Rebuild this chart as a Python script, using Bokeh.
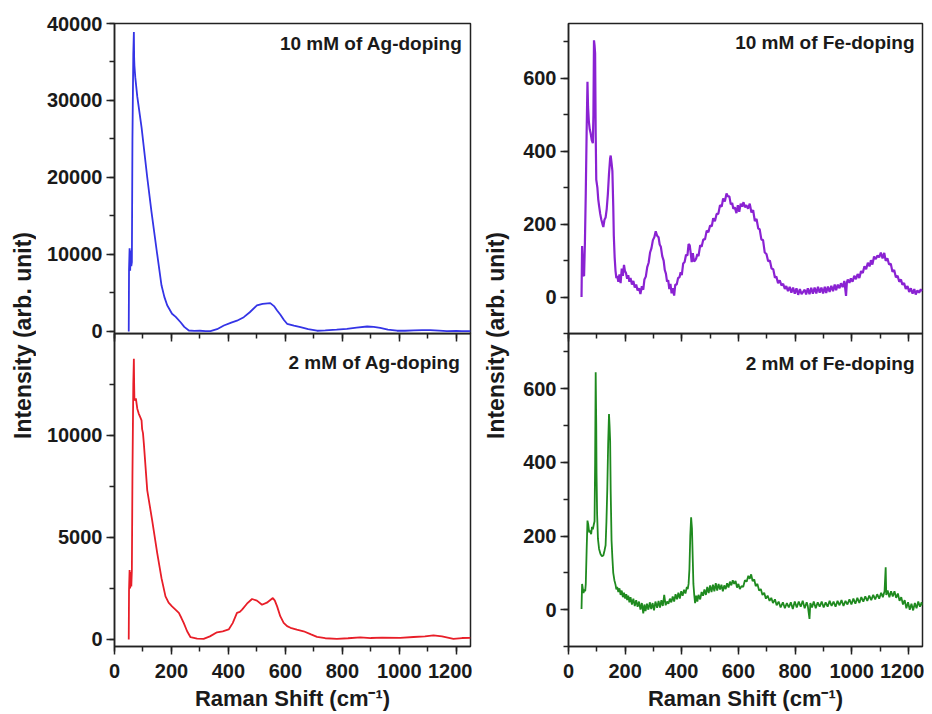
import math
from bokeh.plotting import figure
from bokeh.layouts import row, column
from bokeh.models import Range1d, SingleIntervalTicker, Label
from bokeh.embed import file_html
from bokeh.resources import INLINE

# ---------------- data ----------------
ag10_shift = [50, 51, 53, 55, 57, 59, 61, 63, 66, 68, 69, 70, 73, 80, 95, 115, 130, 150, 165, 175,
              185, 202, 215, 232, 245, 261, 280, 300, 320, 337, 360, 384, 410, 430, 454, 475, 500,
              520, 547, 560, 571, 582, 595, 606, 630, 653, 680, 711, 740, 780, 816, 850, 887, 910,
              933, 960, 992, 1020, 1050, 1080, 1109, 1140, 1167, 1200, 1220, 1243, 1250]
ag10_int = [0, 8000, 10800, 7900, 10500, 8500, 9000, 25000, 36000, 38900, 35500, 34500, 33000,
            30500, 26500, 20000, 15500, 10000, 6000, 4500, 3400, 2300, 1900, 1200, 600, 130, 80,
            100, 60, 40, 300, 780, 1150, 1400, 1860, 2500, 3380, 3600, 3680, 3300, 2730, 2200,
            1500, 1000, 750, 560, 300, 100, 150, 250, 350, 500, 650, 600, 480, 250, 100, 100, 150,
            180, 180, 120, 60, 80, 60, 60, 60]

ag2_shift = [50, 51, 53, 55, 57, 59, 61, 63, 66, 68, 69, 70, 75, 80, 85, 90, 95, 97, 100, 103, 115,
             132, 150, 165, 179, 190, 202, 215, 226, 235, 243, 255, 267, 290, 313, 335, 360, 380,
             401, 415, 430, 440, 448, 465, 483, 500, 518, 535, 556, 563, 571, 582, 594, 606, 618,
             640, 664, 690, 711, 740, 781, 820, 863, 900, 940, 1003, 1050, 1090, 1120, 1150, 1190,
             1220, 1250]
ag2_int = [0, 2400, 3400, 2500, 3300, 2600, 3400, 8000, 12500, 13740, 12500, 11700, 11800, 11300,
           11060, 10900, 10730, 10300, 10100, 9600, 7300, 5850, 4230, 3000, 2110, 1800, 1620, 1450,
           1300, 1050, 810, 400, 110, 40, 30, 150, 350, 400, 490, 800, 1300, 1350, 1460, 1750,
           1980, 1900, 1700, 1800, 2030, 1900, 1620, 1140, 810, 650, 570, 480, 400, 250, 130, 60,
           30, 60, 100, 70, 90, 80, 120, 150, 200, 150, 30, 70, 80]

fe10_shift = [46, 48, 50, 52, 55, 58, 61, 64, 67, 69, 72, 75, 78, 82, 86, 88, 90, 92, 94, 96, 98,
              102, 105, 108, 112, 116, 120, 123, 127, 131, 135, 139, 143, 147, 149, 152, 155, 158,
              160, 163, 166, 169, 172, 176, 180, 184, 188, 192, 196, 199, 203, 207, 211, 215, 219,
              224, 229, 234, 239, 244, 249, 254, 259, 264, 268, 273, 278, 283, 288, 293, 298, 303,
              308, 313, 318, 322, 326, 331, 336, 340, 344, 348, 352, 356, 360, 364, 368, 373, 377,
              382, 387, 392, 396, 400, 405, 410, 415, 420, 424, 428, 431, 435, 439, 443, 447, 451,
              455, 459, 465, 470, 476, 482, 488, 494, 500, 506, 511, 517, 523, 529, 535, 541, 546,
              552, 558, 563, 568, 573, 578, 582, 587, 593, 598, 603, 608, 613, 618, 623, 628, 634,
              640, 646, 652, 658, 664, 670, 675, 681, 687, 693, 699, 705, 711, 717, 723, 729, 734,
              740, 746, 752, 758, 764, 769, 775, 781, 787, 793, 799, 805, 811, 817, 823, 834, 839,
              845, 851, 857, 863, 869, 875, 881, 887, 893, 899, 905, 910, 916, 922, 928, 934, 940,
              945, 951, 957, 962, 968, 974, 980, 983, 986, 992, 997, 1003, 1009, 1015, 1021, 1027,
              1033, 1039, 1045, 1051, 1057, 1063, 1068, 1073, 1079, 1085, 1091, 1097, 1103, 1109,
              1115, 1120, 1126, 1132, 1138, 1144, 1150, 1156, 1162, 1168, 1174, 1179, 1185, 1191,
              1197, 1203, 1209, 1215, 1221, 1226, 1232, 1238, 1244, 1249]
fe10_int = [0, 140, 95, 60, 58, 150, 285, 450, 590, 522, 480, 460, 450, 430, 422, 500, 704, 690,
            668, 450, 322, 300, 268, 250, 228, 212, 200, 192, 212, 218, 242, 282, 338, 380, 388,
            368, 345, 250, 168, 108, 72, 52, 58, 42, 62, 38, 78, 58, 88, 72, 66, 50, 60, 42, 52,
            34, 44, 26, 34, 18, 24, 8, 30, 20, 48, 56, 82, 94, 122, 134, 156, 164, 180, 168, 164,
            144, 138, 112, 100, 74, 64, 42, 46, 22, 36, 10, 24, 4, 34, 34, 52, 54, 68, 60, 92, 96,
            116, 114, 145, 142, 124, 96, 120, 98, 100, 106, 118, 112, 142, 138, 158, 158, 182, 178,
            196, 194, 216, 208, 228, 228, 252, 248, 270, 262, 284, 276, 276, 254, 258, 242, 246,
            230, 252, 234, 256, 248, 260, 246, 252, 242, 256, 232, 238, 208, 214, 188, 186, 158,
            156, 122, 118, 98, 100, 78, 76, 53, 56, 38, 46, 32, 36, 22, 30, 16, 28, 12, 26, 9, 24,
            6, 22, 8, 20, 7, 24, 8, 25, 9, 26, 10, 28, 12, 26, 10, 28, 11, 29, 14, 31, 16, 34, 19,
            34, 24, 38, 27, 44, 3, 40, 48, 39, 51, 42, 58, 49, 63, 52, 71, 66, 84, 76, 94, 84, 101,
            89, 111, 104, 114, 109, 122, 106, 121, 99, 106, 89, 91, 69, 74, 54, 58, 42, 48, 34,
            38, 22, 30, 14, 24, 9, 22, 7, 18, 12, 21, 16]

fe2_shift = [46, 48, 50, 53, 56, 59, 61, 64, 67, 70, 73, 76, 80, 83, 86, 89, 92, 94, 96, 98, 99,
             101, 104, 108, 113, 118, 123, 127, 131, 134, 137, 140, 143, 145, 147, 149, 152, 155,
             158, 162, 166, 169, 172, 176, 180, 184, 188, 192, 196, 200, 204, 207, 211, 215, 219,
             224, 229, 234, 239, 244, 249, 254, 259, 264, 268, 272, 277, 282, 287, 292, 297, 302,
             307, 313, 318, 323, 328, 333, 338, 343, 348, 353, 358, 363, 368, 373, 378, 383, 388,
             393, 398, 403, 408, 413, 418, 421, 424, 427, 430, 433, 436, 439, 441, 444, 447, 451,
             455, 459, 465, 470, 475, 480, 485, 490, 495, 500, 505, 510, 515, 520, 525, 530, 535,
             540, 545, 550, 555, 560, 565, 570, 575, 580, 585, 590, 595, 600, 605, 611, 617, 623,
             629, 635, 640, 645, 650, 656, 661, 667, 673, 679, 685, 691, 697, 703, 710, 716, 722,
             729, 735, 742, 749, 757, 764, 771, 778, 785, 792, 799, 806, 813, 820, 827, 834, 841,
             845, 851, 854, 860, 866, 873, 880, 887, 894, 901, 908, 915, 922, 929, 936, 943, 950,
             957, 964, 971, 978, 985, 992, 999, 1006, 1013, 1020, 1027, 1034, 1041, 1048, 1055,
             1062, 1069, 1076, 1083, 1090, 1097, 1104, 1110, 1116, 1120, 1122, 1127, 1133, 1139,
             1145, 1151, 1157, 1163, 1169, 1175, 1181, 1187, 1193, 1199, 1205, 1211, 1217, 1223,
             1229, 1235, 1241, 1247, 1250]
fe2_int = [2, 70, 60, 45, 55, 50, 70, 160, 242, 230, 210, 215, 205, 225, 218, 230, 240, 400, 645,
           500, 372, 260, 192, 165, 151, 145, 147, 160, 175, 240, 328, 450, 531, 500, 460, 320,
           188, 140, 100, 80, 68, 55, 62, 48, 58, 40, 52, 34, 46, 30, 42, 26, 38, 20, 34, 14, 30,
           10, 26, 8, 22, 0, 18, -10, 14, -4, 16, 0, 20, 2, 18, -2, 22, 5, 24, 6, 26, 10, 40, 12,
           22, 16, 30, 20, 36, 22, 42, 28, 46, 30, 50, 38, 54, 44, 62, 56, 70, 110, 200, 251, 220,
           130, 70, 40, 18, 38, 22, 40, 28, 48, 38, 55, 40, 62, 45, 66, 48, 68, 50, 72, 52, 70,
           55, 68, 50, 66, 56, 72, 60, 76, 66, 80, 70, 78, 60, 70, 56, 64, 62, 80, 76, 92, 84, 96,
           78, 82, 64, 70, 52, 56, 40, 46, 30, 38, 24, 32, 18, 28, 12, 22, 6, 20, 4, 18, 6, 20, 2,
           22, 6, 22, 8, 24, 4, 20, 10, -25, 18, 6, 22, 4, 20, 8, 22, 6, 20, 8, 24, 10, 22, 8, 24,
           12, 26, 10, 24, 14, 28, 14, 30, 16, 32, 18, 34, 22, 36, 24, 38, 26, 40, 28, 42, 30, 46,
           34, 50, 115, 40, 52, 34, 50, 36, 50, 32, 44, 24, 34, 14, 26, 4, 20, 0, 16, -2, 18, 4,
           22, 8, 20, 12]

x_ticks_step = 200
panel_titles = ["10 mM of Ag-doping", "2 mM of Ag-doping", "10 mM of Fe-doping", "2 mM of Fe-doping"]
y_title = "Intensity (arb. unit)"
x_title = "Raman Shift (cm\u207b\u00b9)"

# ---------------- style ----------------
FONT = "Liberation Sans"
AX = "#222222"
TXT = "#1a1a1a"
TICK_FS = "20px"

TOP_BT, TOP_FRAME, OVER = 23, 310, 36
BOT_FRAME, BOT_BB = 314, 66
H_TOTAL = TOP_BT + TOP_FRAME + BOT_FRAME + BOT_BB
W_TL, W_TR = 36, 38


def style_axis(ax, labels=True):
    ax.axis_line_color = AX
    ax.axis_line_width = 1.5
    ax.major_tick_line_color = AX
    ax.major_tick_line_width = 1.5
    ax.major_tick_in = 0
    ax.major_tick_out = 8
    ax.minor_tick_line_color = AX
    ax.minor_tick_line_width = 1.5
    ax.minor_tick_in = 0
    ax.minor_tick_out = 5
    ax.major_label_text_font = FONT
    ax.major_label_text_font_style = "bold"
    ax.major_label_text_font_size = TICK_FS
    if labels:
        ax.major_label_text_color = TXT
        ax.major_label_standoff = 4
    else:
        ax.major_label_text_color = None
        ax.major_label_standoff = 0


def panel(xs, ys, color, lw, yr, yint, title, tx, ty, top, bl, width):
    if top:
        h = TOP_BT + TOP_FRAME + OVER
        bt, bb = TOP_BT, OVER
    else:
        h = BOT_FRAME + BOT_BB
        bt, bb = 0, BOT_BB
    p = figure(width=width, height=h, x_range=Range1d(0, 1250), y_range=Range1d(*yr),
               output_backend="svg", toolbar_location=None,
               min_border_left=bl, min_border_right=2, min_border_top=bt, min_border_bottom=bb)
    p.grid.visible = False
    p.outline_line_color = AX
    p.outline_line_width = 1.5
    p.outline_line_alpha = 1.0
    p.border_fill_color = None
    p.background_fill_color = None
    xa = p.xaxis[0]
    ya = p.yaxis[0]
    xa.ticker = SingleIntervalTicker(interval=x_ticks_step, num_minor_ticks=2)
    ya.ticker = SingleIntervalTicker(interval=yint, num_minor_ticks=2)
    style_axis(ya, True)
    if top:
        style_axis(xa, False)
        xa.axis_label = None
    else:
        style_axis(xa, True)
        xa.major_label_standoff = 9
        xa.axis_label = x_title
        xa.axis_label_text_font = FONT
        xa.axis_label_text_font_style = "bold"
        xa.axis_label_text_font_size = "22px"
        xa.axis_label_text_color = TXT
        xa.axis_label_standoff = 5
    p.line(xs, ys, line_color=color, line_width=lw)
    p.add_layout(Label(x=tx, y=ty, text=title, text_align="right", text_baseline="middle",
                       text_font=FONT, text_font_style="bold", text_font_size="19px",
                       text_color=TXT))
    if top:
        p.margin = (0, 0, -OVER, 0)
    return p


WL, WR = 436, 414
ag10 = panel(ag10_shift, ag10_int, "#3434e6", 1.8, (-260, 40000), 10000, panel_titles[0],
             1222, 37400, True, 78, WL)
ag2 = panel(ag2_shift, ag2_int, "#e81e28", 1.8, (-345, 14980), 5000, panel_titles[1],
            1215, 13540, False, 78, WL)
fe10 = panel(fe10_shift, fe10_int, "#8a22d2", 2.2, (-100, 750), 200, panel_titles[2],
             1222, 697, True, 58, WR)
fe2 = panel(fe2_shift, fe2_int, "#1f8a1f", 1.8, (-100, 750), 200, panel_titles[3],
            1222, 668, False, 58, WR)


def title_fig(w, cx):
    f = figure(width=w, height=H_TOTAL, x_range=Range1d(0, w), y_range=Range1d(0, H_TOTAL),
               output_backend="svg", toolbar_location=None, min_border=0)
    f.axis.visible = False
    f.grid.visible = False
    f.outline_line_color = None
    f.border_fill_color = None
    f.background_fill_color = None
    center_from_top = TOP_BT + (TOP_FRAME + BOT_FRAME) / 2
    f.add_layout(Label(x=cx, y=H_TOTAL - center_from_top, text=y_title, angle=math.pi / 2,
                       text_align="center", text_baseline="middle", text_font=FONT,
                       text_font_style="bold", text_font_size="23px", text_color=TXT))
    return f


tl = title_fig(W_TL, 22)
tr = title_fig(W_TR, 23)

layout = row(tl, column(ag10, ag2), tr, column(fe10, fe2))
open("out.html", "w").write(file_html(layout, INLINE))
